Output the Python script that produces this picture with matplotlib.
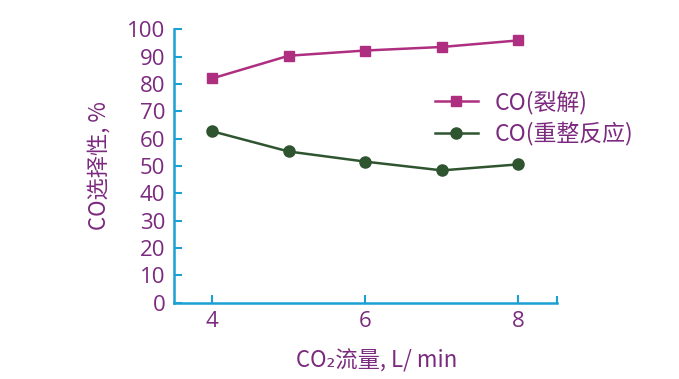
import matplotlib.pyplot as plt

plt.rcParams['font.family'] = ['Noto Sans CJK SC', 'DejaVu Sans']

# data
flow = [4, 5, 6, 7, 8]
co_crack = [82.0, 90.3, 92.2, 93.5, 95.9]
co_reform = [62.7, 55.3, 51.6, 48.4, 50.6]

xticks = [4, 6, 8]
yticks = [0, 10, 20, 30, 40, 50, 60, 70, 80, 90, 100]

text_c = '#7B2A7F'
axis_c = '#1AA0D2'
mag_c = '#AE2F80'
grn_c = '#2F5530'

fig = plt.figure(figsize=(6.79, 3.79), dpi=100)
ax = fig.add_axes([0.256, 0.201, 0.564, 0.722])

ax.plot(flow, co_crack, '-s', color=mag_c, lw=1.8, markersize=7.5, label='CO(裂解)')
ax.plot(flow, co_reform, '-o', color=grn_c, lw=1.8, markersize=8, label='CO(重整反应)')

ax.set_xlim(3.5, 8.5)
ax.set_ylim(0, 100)
ax.set_xticks(xticks)
ax.set_yticks(yticks)
ax.set_xticks([8.5], minor=True)
ax.tick_params(axis='x', which='minor', direction='in', length=5, width=1.5, color=axis_c)

for s in ['top', 'right']:
    ax.spines[s].set_visible(False)
for s in ['left', 'bottom']:
    ax.spines[s].set_color(axis_c)
    ax.spines[s].set_linewidth(1.8)

ax.tick_params(direction='in', length=6, width=1.5, color=axis_c,
               labelcolor=text_c, labelsize=16, pad=6)
for lab in ax.get_xticklabels() + ax.get_yticklabels():
    lab.set_fontfamily(['Open Sans', 'DejaVu Sans'])

ax.set_xlabel('CO₂流量, L/ min', color=text_c, fontsize=16, labelpad=8)
ax.xaxis.set_label_coords(0.53, -0.17)
ax.set_ylabel('CO选择性, %', color=text_c, fontsize=16, labelpad=12)

leg = ax.legend(loc='upper left', bbox_to_anchor=(414 / 679, 1 - 70 / 379),
                bbox_transform=fig.transFigure, frameon=False, fontsize=16.5,
                handlelength=1.9, handletextpad=0.7, labelspacing=0.35)
for t in leg.get_texts():
    t.set_color(text_c)

plt.savefig('out.png', dpi=100)
